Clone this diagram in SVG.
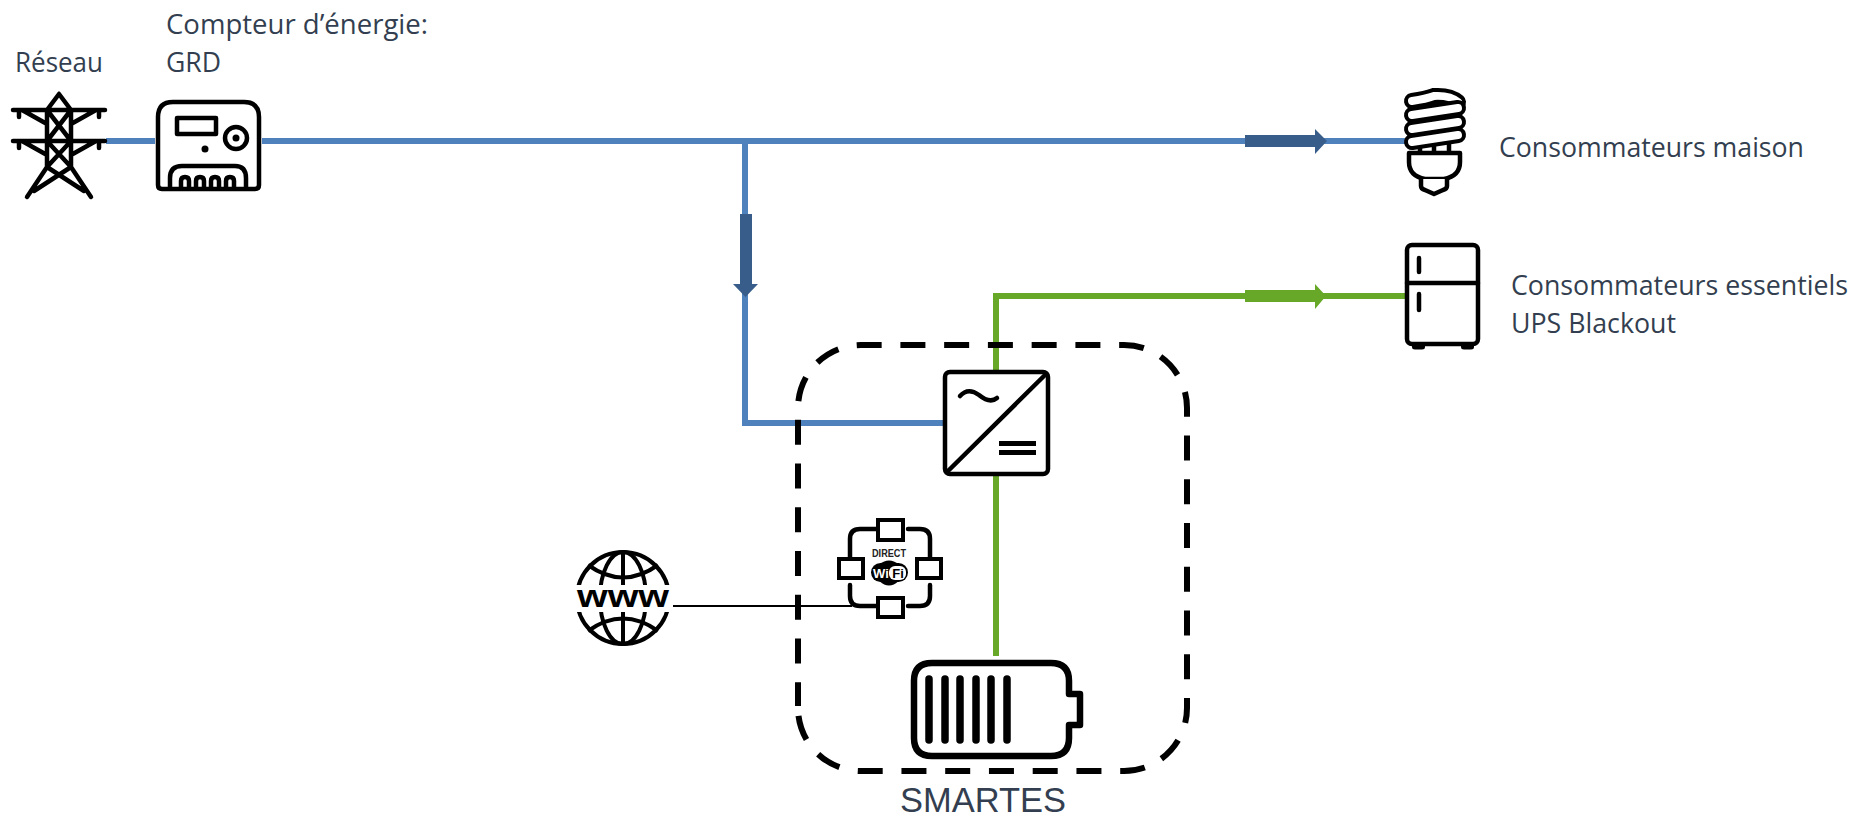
<svg xmlns="http://www.w3.org/2000/svg" width="1854" height="820" viewBox="0 0 1854 820">
<style>
text{font-family:"Open Sans","Noto Sans","Liberation Sans",sans-serif;fill:#333f50}
.lbl{font-size:26.500px}
.blue{fill:none;stroke:#4f81bd;stroke-width:6}
.green{fill:none;stroke:#68a828;stroke-width:6}
.ic{fill:none;stroke:#000;stroke-width:4.500;stroke-linecap:round;stroke-linejoin:round}
.icw{fill:#fff;stroke:#000;stroke-width:4.500;stroke-linejoin:round}
.sq{fill:#fff;stroke:#000;stroke-width:4}
.cap{stroke:#000;stroke-width:16;stroke-linecap:round;fill:none}
.capw{stroke:#fff;stroke-width:8;stroke-linecap:round;fill:none}
</style>
<rect width="1854" height="820" fill="#fff"/>
<g id="connectors">
<path class="blue" d="M106,141H155M262,141H1406"/>
<path class="blue" d="M745,141V423H945"/>
<path class="green" d="M996,372V296H1407"/>
<path class="green" d="M996,474V656"/>
<path d="M673,606H852" fill="none" stroke="#000" stroke-width="2"/>
<path d="M1245,135H1315V129L1327,141L1315,154V147H1245Z" fill="#385d8a"/>
<path d="M1245,290H1315V284L1326,296L1315,309V302H1245Z" fill="#68a828"/>
<path d="M740,214H752V284H758L745.500,297L733,284H740Z" fill="#385d8a"/>
</g>
<g id="smartes-boundary">
<path d="M798,708A63,63 0 0 0 861,771H1124A63,63 0 0 0 1187,708V408A63,63 0 0 0 1124,345H861A63,63 0 0 0 798,408V706" fill="none" stroke="#000" stroke-width="6" stroke-dasharray="25 18.750" stroke-dashoffset="35.750"/>
<text x="900" y="812" font-size="35" textLength="166" lengthAdjust="spacingAndGlyphs" style="font-family:'Liberation Sans',sans-serif">SMARTES</text>
</g>
<g id="reseau">
<text class="lbl" x="15" y="72" textLength="88" lengthAdjust="spacingAndGlyphs">Réseau</text>
<path class="ic" d="M13,110H105M13,141H105M59,94L47,110V167L27,197M59,94L71,110V167L91,197M47,110L71,141M71,110L47,141M47,141L71,167M71,141L47,167M47,167L84,191M71,167L34,191M22,110L47,124M96,110L71,124M22,141L47,155M96,141L71,155M19,110V117M99,110V117M19,141V148M99,141V148"/>
</g>
<g id="compteur">
<text class="lbl" x="166" y="34" textLength="262" lengthAdjust="spacingAndGlyphs">Compteur d’énergie:</text>
<text class="lbl" x="166" y="72" textLength="55" lengthAdjust="spacingAndGlyphs">GRD</text>
<path class="ic" d="M173,102H244Q259,102 259,117V185Q259,189 255,189H162Q158,189 158,185V117Q158,102 173,102Z"/>
<rect class="ic" x="177" y="118" width="39" height="16" stroke-width="4"/>
<circle class="ic" cx="236" cy="138" r="11"/>
<circle cx="236" cy="138" r="3.500"/>
<circle cx="205" cy="149" r="3.500"/>
<path class="ic" d="M170,188V178Q170,166 182,166H235Q246,166 246,178V188"/>
<path class="ic" d="M181,188V181Q181,177 185,177Q189,177 189,181V188M196,188V181Q196,177 200,177Q204,177 204,181V188M211,188V181Q211,177 215,177Q219,177 219,181V188M226,188V181Q226,177 230,177Q234,177 234,181V188"/>
</g>
<g id="consommateurs-maison">
<text class="lbl" x="1499" y="157" textLength="305" lengthAdjust="spacingAndGlyphs">Consommateurs maison</text>
<path class="ic" d="M1420,139V153M1434,139V153M1449,139V153"/>
<path class="cap" d="M1412,101Q1426,99 1434,96Q1450,95 1458,102"/>
<path class="capw" d="M1412,101Q1426,99 1434,96Q1450,95 1458,102"/>
<path class="cap" d="M1412,115L1458,108"/><path class="capw" d="M1412,115L1458,108"/>
<path class="cap" d="M1412,129L1458,122"/><path class="capw" d="M1412,129L1458,122"/>
<path class="cap" d="M1412,142L1458,135"/><path class="capw" d="M1412,142L1458,135"/>
<path class="icw" d="M1409,153H1460V162Q1460,176 1444,179H1425Q1409,176 1409,162Z"/>
<path class="icw" d="M1421,179V186Q1421,189 1425,190L1434,194L1443,190Q1447,189 1447,186V179"/>
</g>
<g id="consommateurs-essentiels">
<text class="lbl" x="1511" y="295" textLength="337" lengthAdjust="spacingAndGlyphs">Consommateurs essentiels</text>
<text class="lbl" x="1511" y="333" textLength="165" lengthAdjust="spacingAndGlyphs">UPS Blackout</text>
<rect class="ic" x="1407" y="245" width="71" height="99" rx="5"/>
<path class="ic" d="M1407,283H1478M1419,258V272M1419,294V310"/>
<path d="M1412,345H1425V347Q1425,349.500 1422,349.500H1415Q1412,349.500 1412,347ZM1461,345H1474V347Q1474,349.500 1471,349.500H1464Q1461,349.500 1461,347Z"/>
</g>
<g id="onduleur">
<rect class="icw" x="945" y="372" width="103" height="102" rx="5"/>
<path class="ic" d="M947,472L1046,374"/>
<path class="ic" d="M960,396Q968,387 979,395Q990,404 997,398"/>
<path d="M999,441H1036V446H999ZM999,450H1036V455H999Z"/>
</g>
<g id="wifi-direct">
<path class="ic" stroke-width="3.500" d="M877,529H860Q850,529 850,539V558M908,529H920Q930,529 930,539V558M850,585V596Q850,606 860,606H877M930,585V596Q930,606 920,606H908"/>
<rect class="sq" x="878" y="520" width="25" height="20"/>
<rect class="sq" x="839" y="559" width="24" height="19"/>
<rect class="sq" x="917" y="559" width="24" height="19"/>
<rect class="sq" x="878" y="598" width="25" height="19"/>
<text x="889" y="557" font-size="11" font-weight="700" text-anchor="middle" style="font-family:'Liberation Sans',sans-serif;fill:#222" textLength="34" lengthAdjust="spacingAndGlyphs">DIRECT</text>
<circle cx="889" cy="573" r="12.500"/>
<rect x="871" y="563" width="37" height="19" rx="9.500"/>
<rect x="889" y="566" width="17" height="14" rx="6" fill="#fff"/>
<text x="881" y="578" font-size="13" font-weight="700" text-anchor="middle" style="font-family:'Liberation Sans',sans-serif;fill:#fff">Wi</text>
<text x="898" y="578" font-size="13" font-weight="700" text-anchor="middle" style="font-family:'Liberation Sans',sans-serif;fill:#000">Fi</text>
</g>
<g id="www">
<clipPath id="gc"><path d="M570,545H676V585H570ZM570,612H676V652H570Z"/></clipPath>
<g clip-path="url(#gc)" fill="none" stroke="#000" stroke-width="4">
<circle cx="623" cy="598" r="46"/>
<ellipse cx="623" cy="598" rx="23" ry="46"/>
<path d="M623,552V644M588,565Q623,590 658,565M588,631Q623,606 658,631"/>
</g>
<text x="623" y="607" font-size="32" font-weight="700" text-anchor="middle" style="font-family:'Liberation Sans',sans-serif;fill:#000" textLength="92" lengthAdjust="spacingAndGlyphs">www</text>
</g>
<g id="batterie">
<path fill="none" stroke="#000" stroke-width="6.500" stroke-linejoin="round" d="M932,663H1051Q1069,663 1069,681V694H1080V725H1069V738Q1069,756 1051,756H932Q914,756 914,738V681Q914,663 932,663Z"/>
<path fill="none" stroke="#000" stroke-width="7.500" stroke-linecap="round" d="M929,679V740M945,679V740M960,679V740M976,679V740M991,679V740M1007,679V740"/>
</g>
</svg>
